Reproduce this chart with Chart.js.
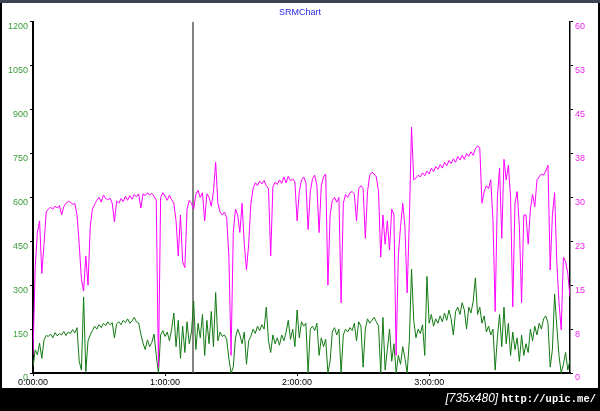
<!DOCTYPE html>
<html>
<head>
<meta charset="utf-8">
<script src="https://cdn.jsdelivr.net/npm/chart.js@4.4.1/dist/chart.umd.min.js"></script>
<style>
  body { margin: 0; background: #000; width: 600px; height: 411px; overflow: hidden; position: relative; }
  #topbar { position: absolute; left: 0; top: 0; width: 600px; height: 3px; background: #3c4452; }
  #panel { position: absolute; left: 2px; top: 3px; width: 596px; height: 385px; background: #fff; }
  #chart { position: absolute; left: 0; top: 0; }
  #mark { position: absolute; right: 4px; top: 391px; color: #fff; font: 12px "Liberation Sans", sans-serif; white-space: nowrap; }
  #mark .url { font-family: "Liberation Mono", monospace; font-weight: bold; font-size: 10.5px; }
</style>
</head>
<body>
<div id="topbar"></div>
<div id="panel"></div>
<canvas id="chart" width="600" height="411"></canvas>
<div id="mark"><i>[735x480]</i> <span class="url">http://upic.me/</span></div>
<script>
// one value per minute of the ride
const speed = [
  3, 18, 24, 26, 17, 22, 27.5, 28, 28.3, 28,
  28.5, 28.2, 28.6, 27, 28.4, 29, 29.3, 29.2, 28.8, 29,
  27, 22, 16, 14, 20, 15, 25, 28, 28.8, 29.5,
  30, 29.2, 30.4, 29.8, 29.6, 29.9, 29, 25.8, 29.4, 29,
  29.8, 29.3, 30.2, 29.5, 30.3, 29.7, 30.5, 30.1, 30.6, 28.2,
  30.6, 30.3, 30.8, 30.4, 30.7, 30.2, 29.5, 1, 30, 30.8,
  30.2, 29.5, 30.4, 29.6, 29, 26, 20, 27, 19, 18,
  28, 29.5, 29, 28, 30.5, 31.2, 30, 30.8, 26, 30.6,
  30, 28.5, 31, 36, 29, 27.5, 27, 27.5, 26.5, 20,
  3, 24, 28, 27, 24, 29, 22, 17.6, 22, 29,
  31.5, 32.5, 32, 32.8, 32.3, 32.9, 32, 31.5, 20, 31.8,
  32.6, 32.2, 33, 32.4, 33.5, 32.5, 33.6, 32.8, 33.2, 32.6,
  26, 31, 33, 33.5, 32.5, 24.5, 31, 33.2, 33.8, 32,
  24, 32, 33.5, 34, 15, 27, 29.5, 30, 29.2, 30,
  12, 29, 30.5, 30, 30.8, 31, 30.6, 26, 31.5, 32,
  31.5, 23, 31, 33.8, 34.3, 34, 33.5, 31, 19.8, 27,
  22, 26, 21, 28, 27, 3, 20, 25, 29, 25,
  13.7, 26, 42, 33, 33.3, 33.8, 33.5, 34.2, 33.7, 34.5,
  34, 35, 34.4, 35.3, 34.8, 35.6, 35, 36, 35.4, 36.3,
  35.8, 36.6, 36, 37, 36.4, 37.2, 36.5, 37.5, 37, 37.8,
  37.2, 38.3, 38.8, 38.5, 29, 31, 32, 31.5, 33, 26,
  10.5, 30, 35, 23, 36.5, 33, 35.5, 30, 11.3, 29,
  31, 25, 12, 27, 27, 22, 28, 30.5, 28.4, 33,
  33.5, 34, 33.8, 34.5, 35.5, 17.6, 27, 30.8, 19, 12,
  7.4, 19.8, 19, 17, 13
];

const power = [
  21, 79, 62, 102, 50, 113, 128, 125, 133, 120,
  138, 127, 135, 130, 142, 128, 140, 135, 148, 137,
  155, 40, 10, 260, 5, 110, 130, 145, 160, 150,
  165, 155, 170, 162, 175, 165, 172, 120, 168, 175,
  165, 180, 172, 185, 170, 178, 190, 175, 171, 133,
  102, 80, 113, 90, 105, 133, 60, 0, 130, 145,
  125, 140, 110, 150, 205, 90, 180, 50, 160, 70,
  175, 100, 140, 245, 80, 170, 120, 200, 60, 180,
  100, 210, 90, 275, 110, 140, 125, 130, 115, 50,
  0, 20, 120, 150, 130, 100, 140, 30, 110, 125,
  150, 135, 160, 145, 165, 150, 225, 110, 70, 130,
  100, 120, 95, 130, 110, 140, 180, 115, 150, 90,
  215, 120, 175, 160, 170, 0, 150, 160, 145, 170,
  60, 120, 90, 115, 0, 40, 140, 155, 130, 150,
  0, 130, 150, 140, 155, 145, 170, 110, 175, 160,
  20, 150, 185, 170, 180, 190, 175, 160, 0, 190,
  10, 80, 150, 40, 100, 0, 60, 30, 90, 50,
  0, 110, 355, 180, 120, 150, 135, 165, 60, 330,
  170, 200, 160, 185, 170, 195, 175, 205, 180, 215,
  185, 130, 210, 225, 200, 240, 215, 150, 225, 205,
  245, 325, 200, 225, 170, 195, 140, 160, 130, 150,
  10, 120, 200, 90, 225, 100, 170, 60, 140, 80,
  120, 40, 130, 60, 100, 70, 150, 110, 160, 130,
  170, 150, 185, 195, 170, 20, 80, 270, 160, 60,
  0, 30, 70, 10, 45
];

const markerTime = 72.7; // minutes, the vertical cursor line
const endTime = 244;

const leftTicks = [0, 150, 300, 450, 600, 750, 900, 1050, 1200];
const rightTicks = [0, 8, 15, 23, 30, 38, 45, 53, 60];

function hms(min) {
  const h = Math.floor(min / 60);
  const m = Math.round(min % 60);
  return h + ':' + String(m).padStart(2, '0') + ':00';
}

const ctx = document.getElementById('chart');

new Chart(ctx, {
  type: 'line',
  data: {
    datasets: [{
      label: 'Speed',
      data: speed.map((v, i) => ({ x: i, y: v })),
      borderColor: '#ff00ff',
      borderWidth: 1,
      pointRadius: 0,
      yAxisID: 'y2'
    }, {
      label: 'Power',
      data: power.map((v, i) => ({ x: i, y: v })),
      borderColor: '#137a13',
      borderWidth: 1,
      pointRadius: 0,
      yAxisID: 'y'
    }, {
      label: 'Cursor',
      data: [{ x: markerTime, y: 0 }, { x: markerTime, y: 1200 }],
      borderColor: '#5a5a5a',
      borderWidth: 1.5,
      pointRadius: 0,
      yAxisID: 'y'
    }]
  },
  options: {
    responsive: false,
    animation: false,
    layout: { padding: 0 },
    scales: {
      x: {
        type: 'linear',
        min: 0,
        max: endTime,
        afterBuildTicks: s => { s.ticks = s.ticks.filter(t => t.value % 60 === 0); },
        afterFit: s => { s.height = 38; },
        ticks: {
          stepSize: 60,
          autoSkip: false,
          maxRotation: 0,
          padding: 1,
          color: '#000',
          font: { family: 'Liberation Sans', size: 9 },
          callback: v => hms(v)
        },
        grid: { drawOnChartArea: false, drawTicks: true, tickLength: 3, color: '#000' },
        border: { color: '#000', width: 2 }
      },
      y: {
        position: 'left',
        min: 0,
        max: 1200,
        afterBuildTicks: s => { s.ticks = leftTicks.map(v => ({ value: v })); },
        afterFit: s => { s.width = 33; },
        ticks: {
          color: '#3c9a3c',
          padding: 2,
          labelOffset: 5,
          font: { family: 'Liberation Sans', size: 9 },
          callback: v => String(v) // no thousands separator
        },
        grid: { drawOnChartArea: false, tickLength: 3, color: '#000' },
        border: { color: '#000', width: 2 }
      },
      y2: {
        position: 'right',
        min: 0,
        max: 60,
        afterBuildTicks: s => { s.ticks = [0, 7.5, 15, 22.5, 30, 37.5, 45, 52.5, 60].map(v => ({ value: v })); },
        afterFit: s => { s.width = 30; },
        ticks: {
          color: '#ee22ee',
          padding: 2,
          labelOffset: 5,
          font: { family: 'Liberation Sans', size: 9 },
          callback: (v, i) => rightTicks[i]
        },
        grid: { drawOnChartArea: false, tickLength: 3, color: '#000' },
        border: { color: '#000', width: 1.5 }
      }
    },
    plugins: {
      legend: { display: false },
      tooltip: { enabled: false },
      title: {
        display: true,
        text: 'SRMChart',
        color: '#2a2ae0',
        font: { family: 'Liberation Sans', size: 9, weight: 'normal' },
        padding: { top: 7, bottom: 4 }
      }
    }
  }
});
</script>
</body>
</html>
